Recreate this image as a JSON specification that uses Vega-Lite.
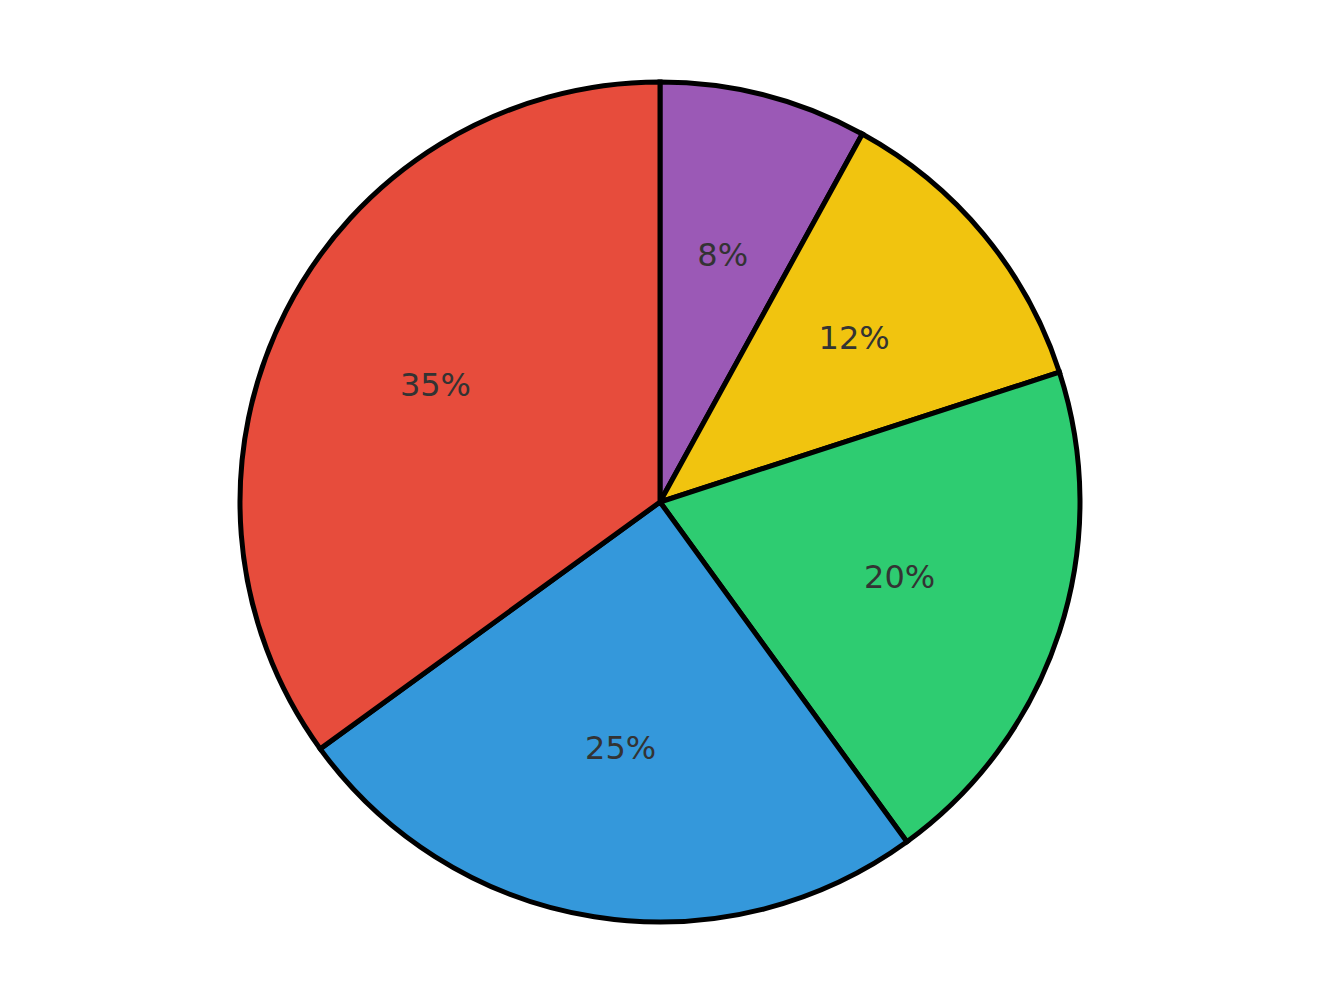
{
  "$schema": "https://vega.github.io/schema/vega-lite/v6.json",
  "autosize": {"type": "fit", "contains": "padding"},
  "width": 1320,
  "height": 1004,
  "padding": 0,
  "background": "white",
  "view": {"stroke": null},
  "data": {"values": [
    {"category": "A", "value": 8, "label": "8%", "order": 1},
    {"category": "B", "value": 12, "label": "12%", "order": 2},
    {"category": "C", "value": 20, "label": "20%", "order": 3},
    {"category": "D", "value": 25, "label": "25%", "order": 4},
    {"category": "E", "value": 35, "label": "35%", "order": 5}
  ]},
  "encoding": {
    "theta": {"field": "value", "type": "quantitative", "stack": true},
    "order": {"field": "order", "type": "quantitative"}
  },
  "layer": [
    {
      "mark": {"type": "arc", "outerRadius": 420, "stroke": "black", "strokeWidth": 5, "strokeJoin": "miter"},
      "encoding": {
        "color": {
          "field": "category", "type": "nominal", "legend": null,
          "scale": {"domain": ["A", "B", "C", "D", "E"], "range": ["#9b59b6", "#f1c40f", "#2ecc71", "#3498db", "#e74c3c"]}
        }
      }
    },
    {
      "mark": {"type": "text", "radius": 252, "fontSize": 32, "dy": -2, "font": "DejaVu Sans", "color": "#333333", "align": "center", "baseline": "middle"},
      "encoding": {"text": {"field": "label", "type": "nominal"}}
    }
  ]
}
